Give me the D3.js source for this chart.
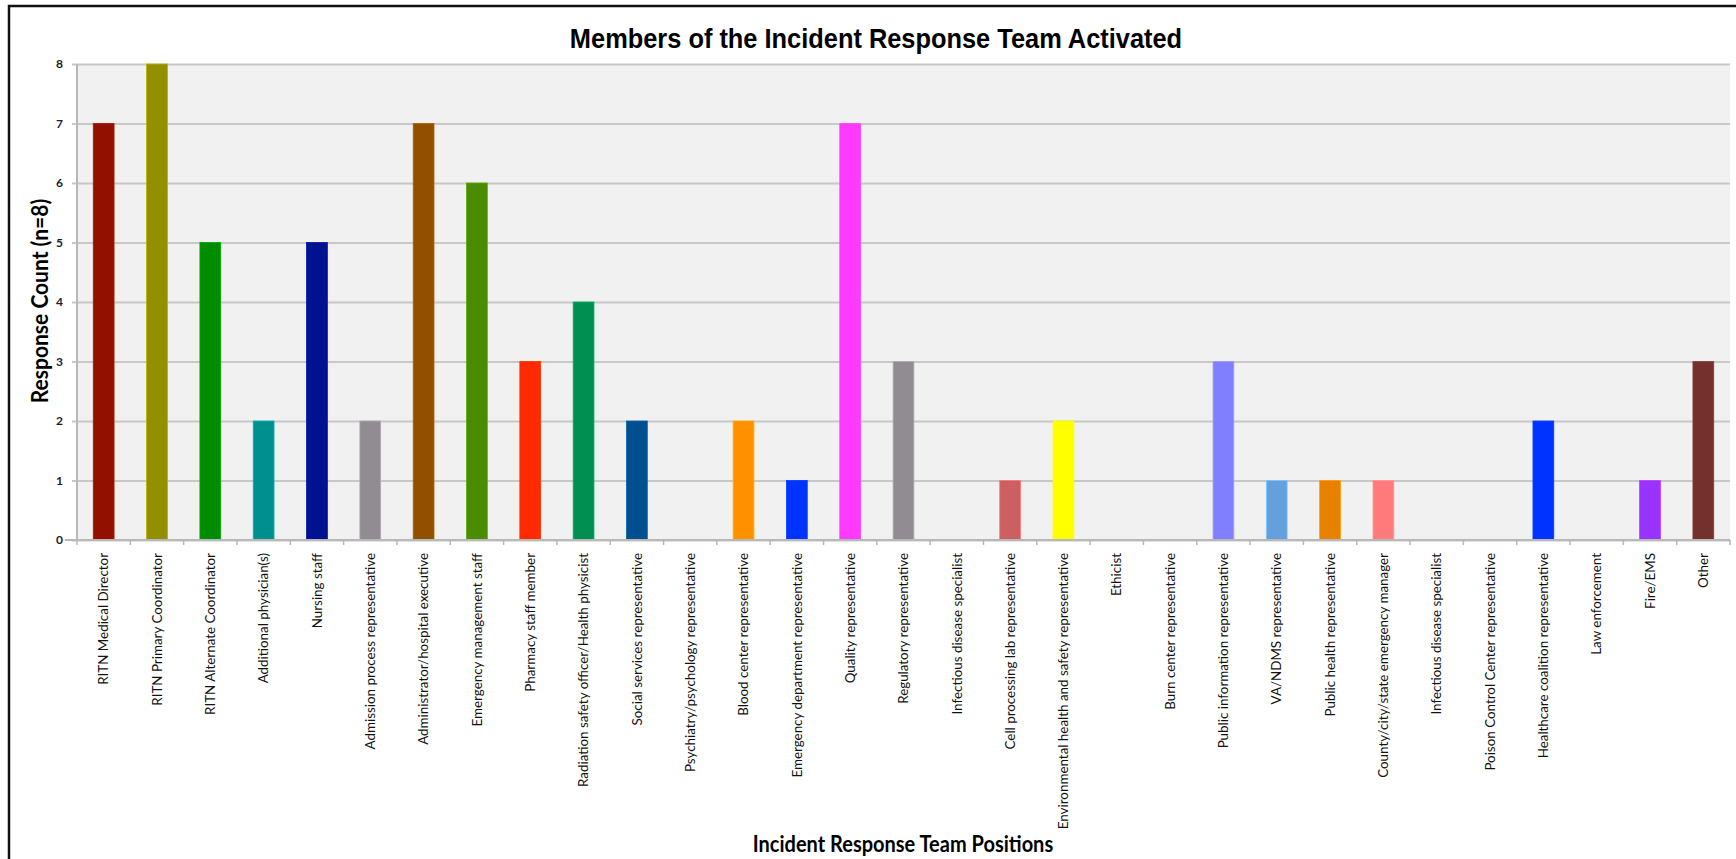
<!DOCTYPE html>
<html>
<head>
<meta charset="utf-8">
<script src="https://cdn.jsdelivr.net/npm/d3@7"></script>
<style>
  body { margin: 0; background: #fff; }
  svg { display: block; }
</style>
</head>
<body>
<svg id="chart"></svg>
<script>
// chart data
const categories = [
  "RITN Medical Director", "RITN Primary Coordinator", "RITN Alternate Coordinator",
  "Additional physician(s)", "Nursing staff", "Admission process representative",
  "Administrator/hospital executive", "Emergency management staff", "Pharmacy staff member",
  "Radiation safety officer/Health physicist", "Social services representative",
  "Psychiatry/psychology representative", "Blood center representative",
  "Emergency department representative", "Quality representative", "Regulatory representative",
  "Infectious disease specialist", "Cell processing lab representative",
  "Environmental health and safety representative", "Ethicist", "Burn center representative",
  "Public information representative", "VA/NDMS representative", "Public health representative",
  "County/city/state emergency manager", "Infectious disease specialist",
  "Poison Control Center representative", "Healthcare coalition representative",
  "Law enforcement", "Fire/EMS", "Other"
];
const counts = [7, 8, 5, 2, 5, 2, 7, 6, 3, 4, 2, 0, 2, 1, 7, 3, 0, 1, 2, 0, 0, 3, 1, 1, 1, 0, 0, 2, 0, 1, 3];
const barColors = [
  "#921000", "#948f00", "#008c00", "#008f8f", "#00128f", "#918c91",
  "#924f00", "#4a8b00", "#ff2a00", "#008f50", "#00508f", "#999999",
  "#ff9000", "#0033ff", "#ff3aff", "#918c91", "#999999", "#cc6060",
  "#ffff00", "#999999", "#999999", "#8080ff", "#64a0dc", "#e88000",
  "#ff7a7a", "#999999", "#999999", "#0033ff", "#999999", "#9933ff", "#73302c"
];
const yMax = 8;

const chartTitle = "Members of the Incident Response Team Activated";
const xTitle = "Incident Response Team Positions";
const yTitle = "Response Count (n=8)";

const width = 1736, height = 859;
const plot = { left: 77, right: 1730, top: 64, bottom: 540 };

const svg = d3.select("#chart")
  .attr("width", width)
  .attr("height", height);

// outer frame (only left and top edges are visible in the crop)
svg.append("path")
  .attr("d", `M9,${height} L9,6 L${width},6`)
  .attr("fill", "none")
  .attr("stroke", "#111")
  .attr("stroke-width", 2.5);

const x = d3.scaleBand()
  .domain(d3.range(categories.length))
  .range([plot.left, plot.right])
  .padding(0);

const y = d3.scaleLinear()
  .domain([0, yMax])
  .range([plot.bottom, plot.top]);

// plot background
svg.append("rect")
  .attr("x", plot.left)
  .attr("y", plot.top)
  .attr("width", plot.right - plot.left)
  .attr("height", plot.bottom - plot.top)
  .attr("fill", "#f1f1f1");

// horizontal gridlines + y axis
const yAxis = d3.axisLeft(y)
  .ticks(yMax)
  .tickSize(-(plot.right - plot.left))
  .tickSizeOuter(0)
  .tickPadding(14)
  .tickFormat(d3.format("d"));

const yg = svg.append("g")
  .attr("transform", `translate(${plot.left},0)`)
  .call(yAxis);
yg.select(".domain").remove();
yg.selectAll(".tick line")
  .attr("x1", -5)
  .attr("stroke", "#c8c8c8")
  .attr("stroke-width", 2);
yg.selectAll(".tick text")
  .attr("fill", "#1c1c2c")
  .style("font-family", "Lato, 'DejaVu Sans', sans-serif")
  .style("font-weight", "bold")
  .style("font-size", "12px");

// y axis line
svg.append("line")
  .attr("x1", plot.left).attr("x2", plot.left)
  .attr("y1", plot.top).attr("y2", plot.bottom)
  .attr("stroke", "#b8b8b8")
  .attr("stroke-width", 2);

// bars
const barW = x.bandwidth() * 0.39;
svg.append("g")
  .selectAll("rect")
  .data(counts.map((v, i) => ({ i, v })).filter(d => d.v > 0))
  .join("rect")
  .attr("x", d => x(d.i) + (x.bandwidth() - barW) / 2)
  .attr("y", d => y(d.v))
  .attr("width", barW)
  .attr("height", d => y(0) - y(d.v))
  .attr("fill", d => barColors[d.i])
  .attr("stroke", d => d3.color(barColors[d.i]).brighter(0.6))
  .attr("stroke-width", 0.8);

// x axis line with boundary ticks
svg.append("line")
  .attr("x1", plot.left - 12).attr("x2", plot.right)
  .attr("y1", plot.bottom).attr("y2", plot.bottom)
  .attr("stroke", "#b8b8b8")
  .attr("stroke-width", 2);

svg.append("g")
  .selectAll("line")
  .data(d3.range(categories.length + 1))
  .join("line")
  .attr("x1", i => plot.left + i * x.step())
  .attr("x2", i => plot.left + i * x.step())
  .attr("y1", plot.bottom)
  .attr("y2", plot.bottom + 5)
  .attr("stroke", "#b8b8b8")
  .attr("stroke-width", 1.5);

// category labels, rotated
svg.append("g")
  .selectAll("text")
  .data(categories)
  .join("text")
  .attr("transform", (d, i) => `translate(${x(i) + x.bandwidth() / 2},553) rotate(-90) scale(1.03,1)`)
  .attr("text-anchor", "end")
  .attr("dy", "0.36em")
  .attr("fill", "#111")
  .style("font-family", "Lato, 'DejaVu Sans', sans-serif")
  .style("font-size", "13px")
  .text(d => d);

// title
svg.append("text")
  .attr("transform", "translate(876,48) scale(1,1.08)")
  .attr("text-anchor", "middle")
  .attr("fill", "#000")
  .style("font-family", "'Liberation Sans', Arial, sans-serif")
  .style("font-weight", "bold")
  .style("font-size", "25.4px")
  .text(chartTitle);

// x axis title
svg.append("text")
  .attr("transform", "translate(903,852) scale(1,1.1)")
  .attr("text-anchor", "middle")
  .attr("fill", "#000")
  .style("font-family", "Lato, 'DejaVu Sans', sans-serif")
  .style("font-weight", "bold")
  .style("font-size", "20px")
  .text(xTitle);

// y axis title
svg.append("text")
  .attr("transform", "translate(48,301) rotate(-90) scale(1.05,1.1)")
  .attr("text-anchor", "middle")
  .attr("fill", "#000")
  .style("font-family", "Lato, 'DejaVu Sans', sans-serif")
  .style("font-weight", "bold")
  .style("font-size", "20px")
  .text(yTitle);
</script>
</body>
</html>
